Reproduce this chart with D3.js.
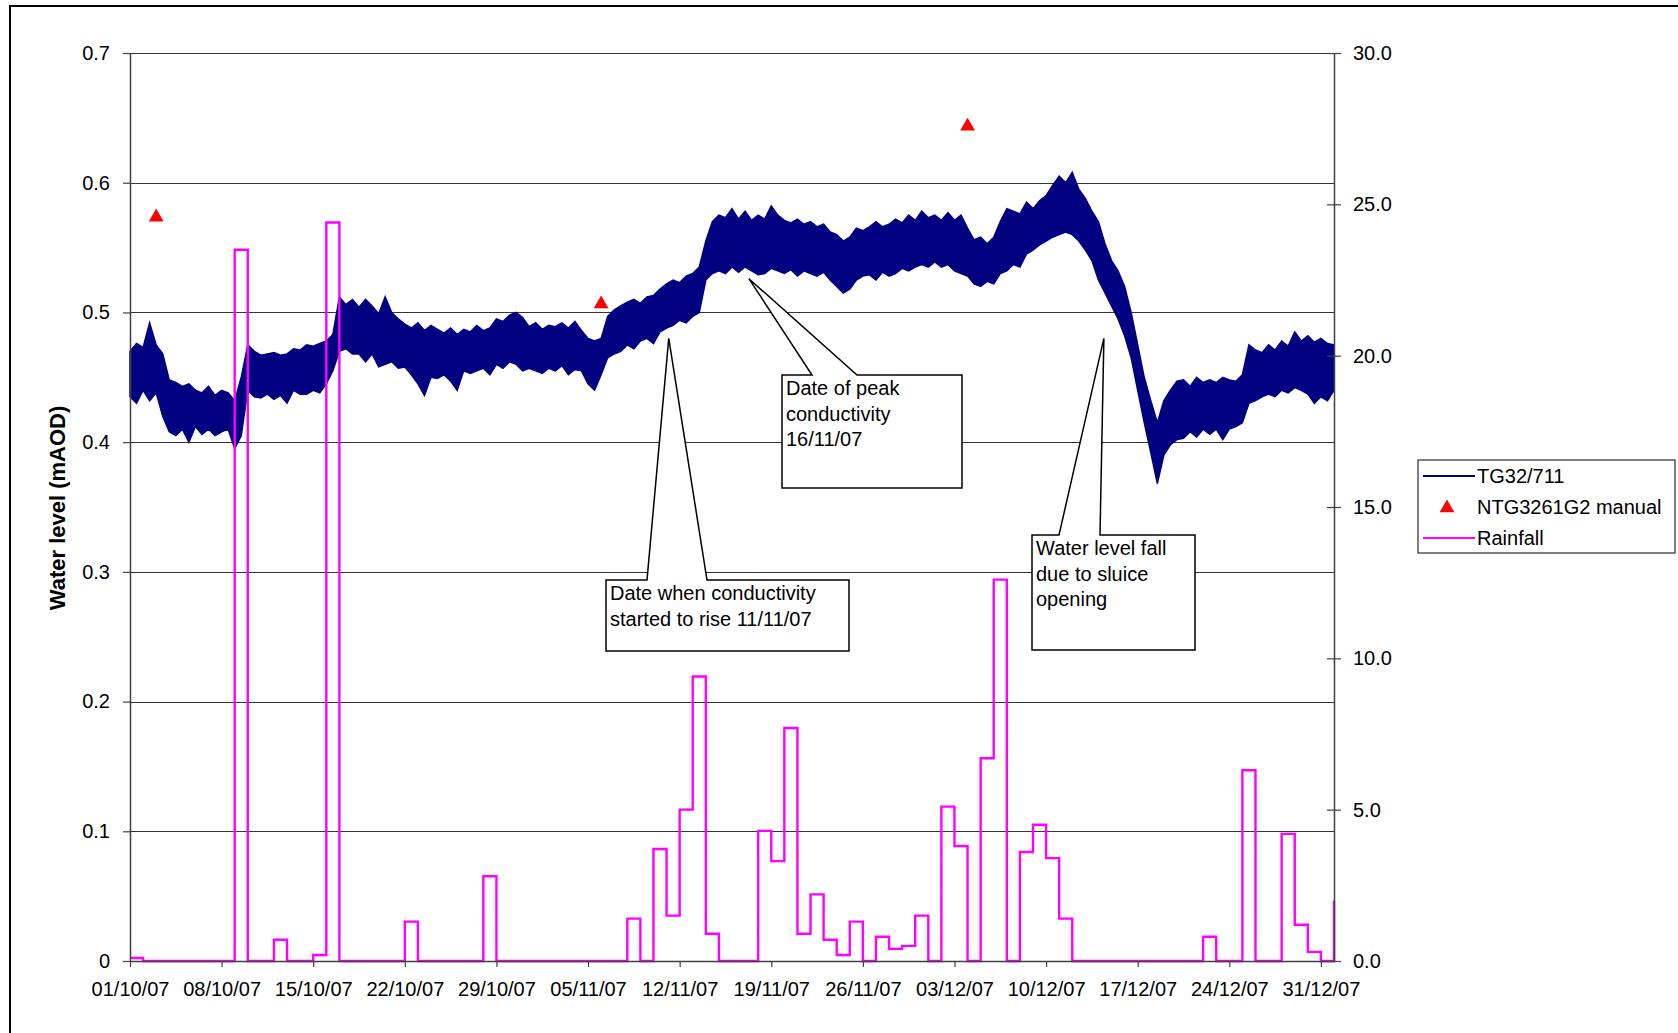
<!DOCTYPE html>
<html>
<head>
<meta charset="utf-8">
<script src="https://cdn.jsdelivr.net/npm/d3@7"></script>
<style>
  body { margin: 0; background: #fff; }
  svg { display: block; font-family: "Liberation Sans", Arial, sans-serif; }
</style>
</head>
<body>
<svg id="chart" width="1678" height="1033"></svg>
<script>
// ---- data -------------------------------------------------------------
const startDate = new Date(Date.UTC(2007, 9, 1));
const endDate = new Date(Date.UTC(2008, 0, 1));

// daily rainfall (mm), one value per day from 01/10/07 to 01/01/08
const rainfall = [
  0.1, 0, 0, 0, 0, 0, 0, 0, 23.5, 0, 0, 0.7, 0, 0, 0.2, 24.4, 0, 0, 0, 0, 0, 1.3,
  0, 0, 0, 0, 0, 2.8, 0, 0, 0, 0, 0, 0, 0, 0, 0, 0, 1.4, 0, 3.7, 1.5, 5.0, 9.4,
  0.9, 0, 0, 0, 4.3, 3.3, 7.7, 0.9, 2.2, 0.7, 0.2, 1.3, 0, 0.8, 0.4, 0.5, 1.5, 0,
  5.1, 3.8, 0, 6.7, 12.6, 0, 3.6, 4.5, 3.4, 1.4, 0, 0, 0, 0, 0, 0, 0, 0, 0, 0,
  0.8, 0, 0, 6.3, 0, 0, 4.2, 1.2, 0.3, 0, 2.0
];

// TG32/711 logger trace: low and high of the noisy trace every 12 hours from 01/10/07
const levelLow = [
  .435, .430, .440, .432, .438, .420, .408, .405, .410, .400, .412, .406, .410, .405, .408, .410,
  .395, .405, .440, .435, .434, .437, .433, .436, .430, .440, .437, .437, .440, .438, .445, .455,
  .470, .472, .468, .468, .462, .468, .458, .460, .462, .457, .458, .452, .445, .436, .450, .449,
  .452, .447, .440, .455, .453, .455, .457, .452, .460, .457, .462, .460, .455, .457, .455, .453,
  .457, .455, .459, .452, .456, .455, .445, .440, .452, .465, .468, .470, .475, .472, .478, .480,
  .476, .485, .488, .490, .494, .492, .497, .500, .525, .530, .532, .530, .535, .531, .535, .532,
  .529, .530, .534, .532, .530, .533, .528, .532, .530, .528, .531, .525, .520, .515, .518, .525,
  .528, .529, .525, .531, .528, .530, .534, .532, .535, .537, .535, .539, .535, .537, .532, .530,
  .528, .522, .520, .524, .522, .530, .532, .537, .535, .545, .548, .552, .555, .558, .560, .562,
  .560, .555, .548, .540, .525, .515, .505, .495, .482, .465, .440, .415, .392, .368, .390, .398,
  .402, .403, .408, .404, .410, .406, .410, .402, .410, .412, .415, .430, .432, .435, .437, .435,
  .440, .438, .442, .440, .437, .430, .435, .432, .440
];
const levelHigh = [
  .470, .476, .473, .492, .475, .468, .448, .446, .443, .445, .440, .438, .443, .436, .440, .438,
  .432, .450, .475, .470, .467, .468, .469, .467, .468, .472, .471, .475, .474, .476, .478, .483,
  .512, .506, .510, .504, .510, .505, .499, .512, .500, .495, .491, .488, .492, .486, .490, .487,
  .484, .488, .483, .487, .485, .490, .486, .488, .495, .493, .498, .500, .496, .489, .492, .487,
  .490, .489, .492, .488, .493, .486, .480, .478, .480, .497, .502, .505, .508, .510, .507, .512,
  .513, .518, .522, .525, .523, .528, .530, .535, .555, .570, .575, .573, .580, .572, .578, .571,
  .575, .572, .582, .575, .571, .569, .572, .568, .570, .566, .568, .562, .560, .555, .558, .565,
  .563, .566, .570, .566, .568, .572, .569, .575, .571, .578, .573, .575, .571, .577, .571, .575,
  .565, .556, .558, .553, .558, .570, .580, .578, .576, .585, .580, .586, .590, .598, .605, .600,
  .608, .595, .588, .578, .570, .553, .540, .532, .520, .500, .475, .450, .432, .415, .432, .440,
  .447, .448, .443, .450, .446, .448, .446, .450, .448, .447, .452, .475, .471, .469, .475, .471,
  .478, .474, .485, .478, .482, .477, .480, .476, .475
];

// NTG3261G2 manual dips
const manualDates = ["2007-10-03", "2007-11-06", "2007-12-04"];
const manualLevels = [0.575, 0.508, 0.645];

const levelTicks = [0, 0.1, 0.2, 0.3, 0.4, 0.5, 0.6, 0.7];
const rainTicks = [0, 5, 10, 15, 20, 25, 30];

const seriesNames = ["TG32/711", "NTG3261G2 manual", "Rainfall"];

const calloutTexts = [
  ["Date when conductivity", "started to rise 11/11/07"],
  ["Date of peak", "conductivity", "16/11/07"],
  ["Water level fall", "due to sluice", "opening"]
];
const calloutTipDates = ["2007-11-11T04:00Z", "2007-11-17T07:00Z", "2007-12-14T10:00Z"];
const calloutTipLevels = [0.48, 0.526, 0.48];

// ---- layout -----------------------------------------------------------
const margin = { left: 130, right: 1334, top: 53, bottom: 961 };
const calloutBoxes = [
  { x0: 606, y0: 580, x1: 849, y1: 651, w0: 647, w1: 707 },
  { x0: 782, y0: 375, x1: 962, y1: 488, w0: 812, w1: 857 },
  { x0: 1032, y0: 535, x1: 1195, y1: 650, w0: 1059, w1: 1100 }
];
const navy = "#000080", magenta = "#ff00ff", axisColor = "#404040";

const svg = d3.select("#chart");

const x = d3.scaleUtc().domain([startDate, endDate]).range([margin.left, margin.right]);
const y = d3.scaleLinear().domain([0, 0.7]).range([margin.bottom, margin.top]);
const yr = d3.scaleLinear().domain([0, 30]).range([margin.bottom, margin.top]);

// outer chart frame
svg.append("rect")
  .attr("x", 10).attr("y", 6)
  .attr("width", 1800).attr("height", 1200)
  .attr("fill", "none").attr("stroke", "#000").attr("stroke-width", 2);

// gridlines
svg.append("g")
  .selectAll("line")
  .data(levelTicks.filter(d => d > 0))
  .join("line")
  .attr("x1", margin.left).attr("x2", margin.right)
  .attr("y1", d => Math.round(y(d)) + 0.5).attr("y2", d => Math.round(y(d)) + 0.5)
  .attr("stroke", "#333").attr("stroke-width", 1);

// water level trace
const levelData = levelLow.map((lo, i) => ({
  t: new Date(startDate.getTime() + i * 12 * 3600 * 1000),
  lo: lo,
  hi: levelHigh[i]
}));
svg.append("path")
  .datum(levelData)
  .attr("d", d3.area().x(d => x(d.t)).y0(d => y(d.lo)).y1(d => y(d.hi)))
  .attr("fill", navy)
  .attr("stroke", navy)
  .attr("stroke-width", 1.5)
  .attr("stroke-linejoin", "miter");

// rainfall step line
const rainData = rainfall.map((v, i) => ({ t: d3.utcDay.offset(startDate, i), v: v }));
svg.append("path")
  .datum(rainData)
  .attr("d", d3.line().x(d => x(d.t)).y(d => yr(d.v)).curve(d3.curveStepAfter))
  .attr("fill", "none")
  .attr("stroke", magenta)
  .attr("stroke-width", 2.4);

// axes
const fmtLevel = d => d === 0 ? "0" : d.toFixed(1);
const xTicks = d3.range(0, 92, 7).map(d => d3.utcDay.offset(startDate, d));

const gx = svg.append("g")
  .attr("transform", `translate(0,${margin.bottom})`)
  .call(d3.axisBottom(x).tickValues(xTicks).tickFormat(d3.utcFormat("%d/%m/%y"))
    .tickSize(6).tickSizeOuter(0).tickPadding(15));

const gy = svg.append("g")
  .attr("transform", `translate(${margin.left},0)`)
  .call(d3.axisLeft(y).tickValues(levelTicks).tickFormat(fmtLevel)
    .tickSize(7).tickSizeOuter(0).tickPadding(13));

const gyr = svg.append("g")
  .attr("transform", `translate(${margin.right},0)`)
  .call(d3.axisRight(yr).tickValues(rainTicks).tickFormat(d => d.toFixed(1))
    .tickSize(7).tickSizeOuter(0).tickPadding(12));
gyr.selectAll(".tick line").attr("x1", -7);

[gx, gy, gyr].forEach(g => {
  g.select(".domain").attr("stroke", axisColor).attr("stroke-width", 1.5);
  g.selectAll(".tick line").attr("stroke", axisColor).attr("stroke-width", 1.2);
  g.selectAll("text")
    .attr("fill", "#000")
    .style("font-family", "'Liberation Sans', Arial, sans-serif")
    .style("font-size", "20px");
});

svg.append("text")
  .attr("transform", `translate(57,${(margin.top + margin.bottom) / 2 + 1}) rotate(-90)`)
  .attr("text-anchor", "middle")
  .attr("dominant-baseline", "central")
  .style("font-size", "22px")
  .style("font-weight", "bold")
  .text("Water level (mAOD)");

// manual dips
const tri = d3.symbol(d3.symbolTriangle).size(95);
svg.append("g")
  .selectAll("path")
  .data(manualDates.map((d, i) => ({ t: new Date(d + "T00:00Z"), v: manualLevels[i] })))
  .join("path")
  .attr("d", tri)
  .attr("transform", d => `translate(${x(d.t)},${y(d.v) + 2})`)
  .attr("fill", "#ff0000");

// callouts
calloutTexts.forEach((lines, i) => {
  const b = calloutBoxes[i];
  const tx = x(new Date(calloutTipDates[i]));
  const ty = y(calloutTipLevels[i]);
  const g = svg.append("g");
  g.append("path")
    .attr("d", `M${b.x0},${b.y0}L${b.w0},${b.y0}L${tx},${ty}L${b.w1},${b.y0}L${b.x1},${b.y0}` +
      `L${b.x1},${b.y1}L${b.x0},${b.y1}Z`)
    .attr("fill", "#fff")
    .attr("stroke", "#000")
    .attr("stroke-width", 1.5)
    .attr("stroke-linejoin", "miter");
  g.append("text")
    .style("font-size", "20px")
    .selectAll("tspan")
    .data(lines)
    .join("tspan")
    .attr("x", b.x0 + 4)
    .attr("y", (d, j) => b.y0 + 20 + j * 25.5)
    .text(d => d);
});

// legend
const legend = svg.append("g").attr("transform", "translate(1418,460)");
legend.append("rect")
  .attr("x", 0).attr("y", 0).attr("width", 257).attr("height", 93)
  .attr("fill", "#fff").attr("stroke", "#000").attr("stroke-width", 1);
const rows = [16, 47, 78];
legend.append("line").attr("x1", 5).attr("x2", 57).attr("y1", rows[0]).attr("y2", rows[0])
  .attr("stroke", navy).attr("stroke-width", 2);
legend.append("path").attr("d", tri).attr("transform", `translate(29,${rows[1] + 1})`)
  .attr("fill", "#ff0000");
legend.append("line").attr("x1", 5).attr("x2", 57).attr("y1", rows[2]).attr("y2", rows[2])
  .attr("stroke", magenta).attr("stroke-width", 2);
legend.selectAll("text.lbl")
  .data(seriesNames)
  .join("text")
  .attr("class", "lbl")
  .attr("x", 59)
  .attr("y", (d, i) => rows[i])
  .attr("dy", "0.35em")
  .style("font-size", "20px")
  .text(d => d);
</script>
</body>
</html>
